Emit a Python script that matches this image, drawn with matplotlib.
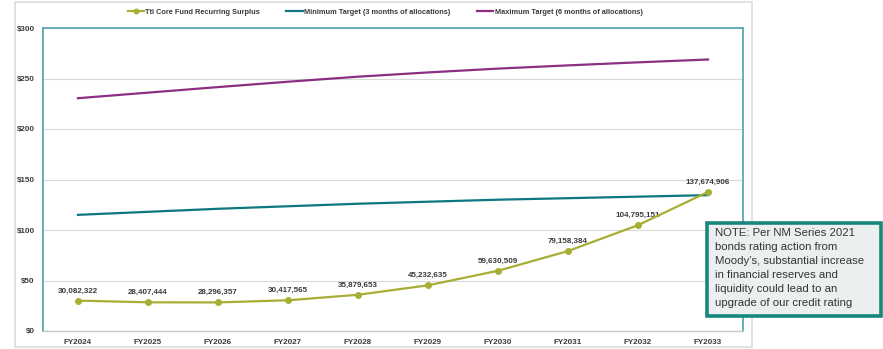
import matplotlib.pyplot as plt
from matplotlib.patches import Rectangle

plt.rcParams['font.family'] = ['Liberation Sans', 'DejaVu Sans']

# Fiscal years and the three series ($ millions, labels in dollars)
years = ["FY2024", "FY2025", "FY2026", "FY2027", "FY2028",
         "FY2029", "FY2030", "FY2031", "FY2032", "FY2033"]
surplus = [30082322, 28407444, 28296357, 30417565, 35879653,
           45232635, 59630509, 79158384, 104795151, 137674906]
min_target = [115.0, 118.0, 121.0, 123.5, 126.0, 128.0, 130.0, 131.5, 133.0, 134.5]
max_target = [230.5, 236.0, 241.5, 246.8, 251.8, 256.0, 259.8, 263.0, 266.0, 268.8]
yticks = [0, 50, 100, 150, 200, 250, 300]

OLIVE = "#a8ae35"
TEAL = "#0e7882"
PURPLE = "#8c2f82"
TXT = "#3a3a3a"

W, H = 883, 349
fig = plt.figure(figsize=(W / 100, H / 100), dpi=100)

# outer chart frame
fig.patches.append(Rectangle((15 / W, 1 - 347 / H), (752 - 15) / W, (347 - 2) / H,
                             transform=fig.transFigure, fill=False,
                             edgecolor="#dcdcdc", lw=1.2))

ax = fig.add_axes([43 / W, 18 / H, 700 / W, 303 / H])
x = list(range(len(years)))
surplus_m = [v / 1e6 for v in surplus]

ax.plot(x, surplus_m, color=OLIVE, lw=1.6, marker="o", ms=4,
        label="Ttl Core Fund Recurring Surplus", zorder=4)
ax.plot(x, min_target, color=TEAL, lw=1.6,
        label="Minimum Target (3 months of allocations)", zorder=3)
ax.plot(x, max_target, color=PURPLE, lw=1.6,
        label="Maximum Target (6 months of allocations)", zorder=3)

for xi, v in zip(x, surplus):
    ax.annotate(f"{v:,}", (xi, v / 1e6), xytext=(0, 4.5), textcoords="offset points",
                ha="center", va="bottom", fontsize=5.8, fontweight="bold", color=TXT)

ax.set_xlim(-0.5, len(years) - 0.5)
ax.set_ylim(0, 300)
ax.set_yticks(yticks)
ax.set_yticklabels([f"${t}" for t in yticks])
ax.set_xticks(x)
ax.set_xticklabels(years)
ax.tick_params(length=0, labelsize=5.8, colors=TXT, pad=6)
for lab in ax.get_xticklabels() + ax.get_yticklabels():
    lab.set_fontweight("bold")

ax.grid(axis="y", color="#d9d9d9", lw=0.8)
ax.set_axisbelow(True)
for side in ["left", "top", "right"]:
    ax.spines[side].set_color("#5aa8b0")
    ax.spines[side].set_linewidth(1.3)
ax.spines["bottom"].set_color("#c8c8c8")
ax.spines["bottom"].set_linewidth(1.0)

fig.legend(loc="center", bbox_to_anchor=(385 / W, 1 - 12 / H), ncol=3,
           frameon=False, prop={"size": 5.3, "weight": "bold"},
           handlelength=2.2, handletextpad=0.2, columnspacing=3.6,
           markerscale=0.8, labelcolor=TXT)

# note box
fig.patches.append(Rectangle((707 / W, 1 - 316 / H), (881 - 707) / W, (316 - 223) / H,
                             transform=fig.transFigure, facecolor="#eceff0",
                             edgecolor="#17877d", lw=2.6, zorder=5))
fig.text(715 / W, 1 - 227.5 / H,
         "NOTE: Per NM Series 2021\nbonds rating action from\nMoody\u2019s, substantial increase\n"
         "in financial reserves and\nliquidity could lead to an\nupgrade of our credit rating",
         ha="left", va="top", fontsize=8.2, color="#333333", linespacing=1.52, zorder=6)

fig.savefig("out.png", dpi=100)
